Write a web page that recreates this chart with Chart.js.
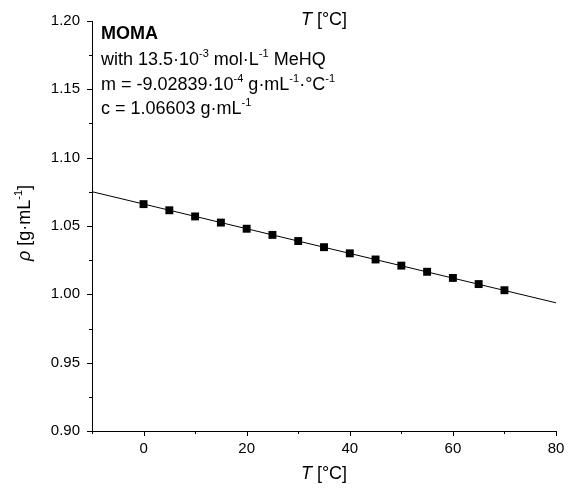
<!DOCTYPE html>
<html>
<head>
<meta charset="utf-8">
<script src="https://cdn.jsdelivr.net/npm/chart.js@4"></script>
<style>
  html, body { margin: 0; padding: 0; background: #fff; }
  canvas { display: block; }
</style>
</head>
<body>
<canvas id="chart" width="568" height="489"></canvas>
<script>
const temps = [0, 5, 10, 15, 20, 25, 30, 35, 40, 45, 50, 55, 60, 65, 70];
const density = [1.066, 1.0615, 1.057, 1.0525, 1.048, 1.0435, 1.039, 1.0345, 1.030, 1.0255, 1.021, 1.0165, 1.012, 1.0075, 1.003];
// linear fit, drawn across the whole axis
const fitT = [-10, 80];
const fitRho = [1.0751, 0.9938];
// axis ticks
const xMajor = [0, 20, 40, 60, 80];
const yMajor = [0.90, 0.95, 1.00, 1.05, 1.10, 1.15, 1.20];

const FONT = '"Liberation Sans", Arial, sans-serif';

function isMajor(list, v) {
  return list.some(m => Math.abs(m - v) < 1e-6);
}

// draws a line of mixed text: [{t, b, i, sup}]
function drawRuns(ctx, runs, x, y, size) {
  let cx = x;
  runs.forEach(r => {
    let s = r.sup ? Math.round(size * 0.62) : size;
    ctx.font = (r.i ? 'italic ' : '') + (r.b ? 'bold ' : '') + s + 'px ' + FONT;
    ctx.fillText(r.t, cx, r.sup ? y - size * 0.42 : y);
    cx += ctx.measureText(r.t).width;
  });
}
function runsWidth(ctx, runs, size) {
  let w = 0;
  runs.forEach(r => {
    let s = r.sup ? Math.round(size * 0.62) : size;
    ctx.font = (r.i ? 'italic ' : '') + (r.b ? 'bold ' : '') + s + 'px ' + FONT;
    w += ctx.measureText(r.t).width;
  });
  return w;
}

const tickMarks = {
  id: 'tickMarks',
  afterDraw(chart) {
    const { ctx, scales: { x, y } } = chart;
    ctx.save();
    ctx.strokeStyle = '#000';
    ctx.lineWidth = 1;
    ctx.beginPath();
    x.ticks.forEach(t => {
      let px = Math.round(x.getPixelForValue(t.value)) + 0.5;
      let len = isMajor(xMajor, t.value) ? 5 : 3;
      ctx.moveTo(px, x.top);
      ctx.lineTo(px, x.top + len);
    });
    y.ticks.forEach(t => {
      let py = Math.round(y.getPixelForValue(t.value)) + 0.5;
      let len = isMajor(yMajor, t.value) ? 5 : 3;
      ctx.moveTo(y.right, py);
      ctx.lineTo(y.right - len, py);
    });
    ctx.stroke();
    ctx.restore();
  }
};

const labels = {
  id: 'labels',
  afterDraw(chart) {
    const ctx = chart.ctx;
    const area = chart.chartArea;
    ctx.save();
    ctx.fillStyle = '#000';
    ctx.textBaseline = 'alphabetic';
    const cxMid = (area.left + area.right) / 2;

    // x title (bottom and the stray one at the top)
    const tTitle = [{ t: 'T', i: true }, { t: ' [°C]' }];
    let w = runsWidth(ctx, tTitle, 18);
    drawRuns(ctx, tTitle, cxMid - w / 2, 479, 18);
    drawRuns(ctx, tTitle, cxMid - w / 2, 25, 18);

    // y title
    const yTitle = [{ t: 'ρ', i: true }, { t: ' [g·mL' }, { t: '-1', sup: true }, { t: ']' }];
    w = runsWidth(ctx, yTitle, 18);
    ctx.save();
    ctx.translate(30, (area.top + area.bottom) / 2 - 3);
    ctx.rotate(-Math.PI / 2);
    drawRuns(ctx, yTitle, -w / 2, 0, 18);
    ctx.restore();

    // annotation
    const lines = [
      [{ t: 'MOMA', b: true }],
      [{ t: 'with 13.5·10' }, { t: '-3', sup: true }, { t: ' mol·L' }, { t: '-1', sup: true }, { t: ' MeHQ' }],
      [{ t: 'm = -9.02839·10' }, { t: '-4', sup: true }, { t: ' g·mL' }, { t: '-1', sup: true }, { t: '·°C' }, { t: '-1', sup: true }],
      [{ t: 'c = 1.06603 g·mL' }, { t: '-1', sup: true }]
    ];
    const base = [39, 65, 90, 114];
    lines.forEach((ln, k) => drawRuns(ctx, ln, 101, base[k], 18));
    ctx.restore();
  }
};

new Chart(document.getElementById('chart').getContext('2d'), {
  type: 'scatter',
  data: {
    datasets: [
      {
        data: fitT.map((t, k) => ({ x: t, y: fitRho[k] })),
        showLine: true,
        borderColor: '#000',
        borderWidth: 1,
        pointRadius: 0,
        order: 2
      },
      {
        data: temps.map((t, k) => ({ x: t, y: density[k] })),
        pointStyle: 'rect',
        pointRadius: 5.6,
        pointBorderWidth: 0,
        backgroundColor: '#000',
        borderColor: '#000',
        order: 1
      }
    ]
  },
  options: {
    responsive: false,
    animation: false,
    events: [],
    layout: { padding: { top: 21, right: 12, left: 0, bottom: 0 } },
    plugins: { legend: { display: false }, tooltip: { enabled: false } },
    scales: {
      x: {
        type: 'linear',
        min: -10, max: 80,
        grid: { display: false, drawTicks: false },
        border: { display: true, color: '#000', width: 1 },
        ticks: {
          stepSize: 10, autoSkip: false, maxRotation: 0, padding: 9,
          color: '#000', font: { family: FONT, size: 15 },
          callback: v => isMajor(xMajor, v) ? String(Math.round(v)) : ''
        },
        afterFit: s => { s.height = 58; s.paddingLeft = 0; s.paddingRight = 0; }
      },
      y: {
        type: 'linear',
        min: 0.90, max: 1.20,
        grid: { display: false, drawTicks: false },
        border: { display: true, color: '#000', width: 1 },
        ticks: {
          stepSize: 0.025, autoSkip: false, padding: 12,
          color: '#000', font: { family: FONT, size: 15 },
          callback: v => isMajor(yMajor, v) ? v.toFixed(2) : ''
        },
        afterFit: s => { s.width = 92; s.paddingTop = 0; s.paddingBottom = 0; }
      }
    }
  },
  plugins: [tickMarks, labels]
});
</script>
</body>
</html>
